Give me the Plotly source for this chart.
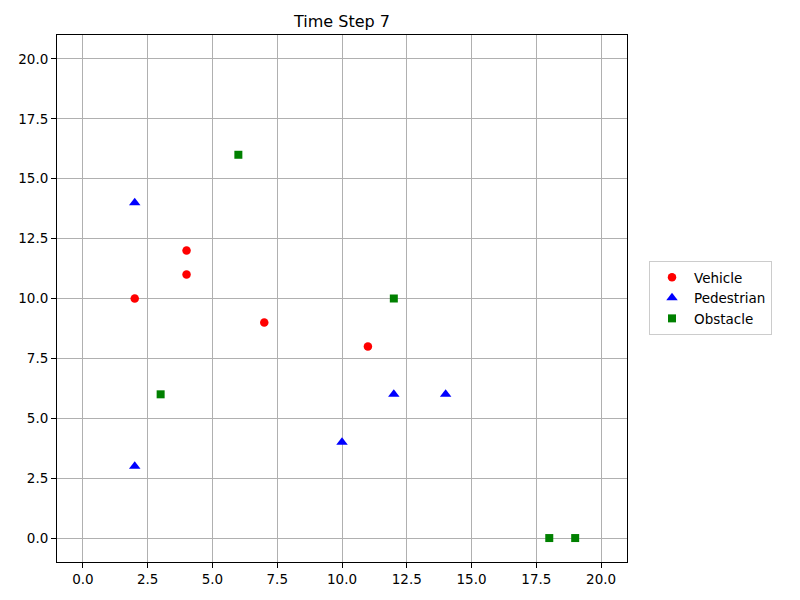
"""Scatter of agents at one simulation time step."""

import plotly.graph_objects as go

TITLE = "Time Step 7"

VEHICLE_X = [2, 4, 4, 7, 11]
VEHICLE_Y = [10, 12, 11, 9, 8]

PEDESTRIAN_X = [2, 2, 10, 12, 14]
PEDESTRIAN_Y = [14, 3, 4, 6, 6]

OBSTACLE_X = [6, 3, 12, 18, 19]
OBSTACLE_Y = [16, 6, 10, 0, 0]

TICKS = [0, 2.5, 5, 7.5, 10, 12.5, 15, 17.5, 20]
TICK_TEXT = ["0.0", "2.5", "5.0", "7.5", "10.0", "12.5", "15.0", "17.5", "20.0"]

FONT = "DejaVu Sans"
GRID = "#b0b0b0"

# the page body adds an 8px margin, so the figure is laid out 8px up/left
PAD = 8

fig = go.Figure()
for name, xs, ys, color, symbol, size in [
    ("Vehicle", VEHICLE_X, VEHICLE_Y, "red", "circle", 8.5),
    ("Pedestrian", PEDESTRIAN_X, PEDESTRIAN_Y, "blue", "triangle-up", 10),
    ("Obstacle", OBSTACLE_X, OBSTACLE_Y, "green", "square", 8),
]:
    fig.add_trace(
        go.Scatter(
            x=xs,
            y=ys,
            mode="markers",
            name=name,
            marker=dict(color=color, symbol=symbol, size=size, line=dict(width=0)),
        )
    )

axis_style = dict(
    tickvals=TICKS,
    ticktext=TICK_TEXT,
    showgrid=True,
    gridcolor=GRID,
    gridwidth=1,
    zeroline=False,
    showline=True,
    linecolor="black",
    linewidth=1,
    mirror=True,
    ticks="outside",
    ticklen=5,
    tickcolor="black",
    tickfont=dict(family=FONT, size=13.5, color="black"),
    automargin=False,
)
fig.update_xaxes(range=[-1, 21], **axis_style)
fig.update_yaxes(range=[-1, 21], **axis_style)

left, top, plot_w, plot_h = 57 - PAD, 35 - PAD, 570, 527
fig.update_layout(
    width=800,
    height=600,
    title=dict(
        text=TITLE,
        x=(left + plot_w / 2) / 800,
        xanchor="center",
        y=1 - (21 - PAD) / 600,
        yanchor="middle",
        font=dict(family=FONT, size=16, color="black"),
    ),
    margin=dict(l=left, r=800 - left - plot_w, t=top, b=600 - top - plot_h),
    plot_bgcolor="white",
    paper_bgcolor="white",
    legend=dict(
        x=(649 - 57) / plot_w,
        xanchor="left",
        y=(562 - 298) / plot_h,
        yanchor="middle",
        bordercolor="#cccccc",
        borderwidth=1,
        font=dict(family=FONT, size=13.5, color="black"),
        itemwidth=34,
        tracegroupgap=2,
    ),
    font=dict(family=FONT, size=13.5, color="black"),
)

fig.write_html("out.html")
